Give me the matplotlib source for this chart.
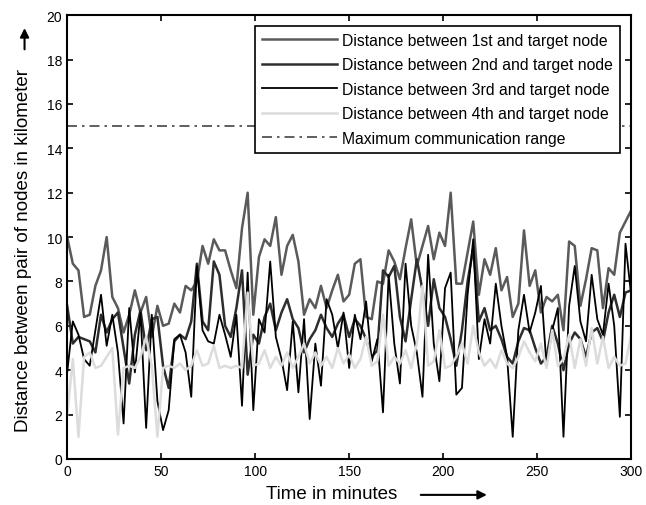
import numpy as np
import matplotlib.pyplot as plt
from matplotlib.patches import FancyArrowPatch

# time axis in minutes, one sample every 3 minutes
time_min = np.arange(0, 301, 3)

dist_1st = [10.0, 8.8, 8.5, 6.4, 6.5, 7.8, 8.5, 10.0, 7.3, 6.8,
            5.7, 6.5, 7.6, 6.6, 7.3, 5.5, 6.9, 6.0, 6.1, 7.0,
            6.6, 7.8, 7.6, 8.0, 9.6, 8.8, 9.9, 9.4, 9.4, 8.5,
            7.7, 10.4, 12.0, 6.5, 9.1, 9.9, 9.6, 10.9, 8.3, 9.6,
            10.1, 8.9, 6.5, 7.2, 6.8, 7.8, 6.8, 7.6, 8.3, 7.1,
            7.4, 8.8, 9.0, 6.4, 6.3, 8.0, 7.9, 9.4, 8.9, 8.1,
            9.5, 10.8, 8.7, 9.6, 10.5, 9.0, 10.2, 9.6, 12.0, 7.9,
            7.9, 9.3, 10.7, 7.4, 9.0, 8.3, 9.5, 7.6, 8.2, 6.4,
            7.0, 10.3, 7.8, 8.5, 6.6, 7.3, 7.1, 7.4, 5.8, 9.8,
            9.6, 6.9, 8.1, 9.5, 9.4, 6.8, 8.6, 8.3, 10.2, 10.7,
            11.2]

dist_2nd = [6.9, 5.2, 5.5, 5.4, 5.3, 4.8, 6.5, 5.7, 6.3, 6.6,
            5.0, 3.4, 5.6, 6.7, 4.9, 6.3, 6.4, 4.2, 3.2, 5.3,
            5.6, 5.4, 6.2, 8.8, 6.2, 5.8, 8.9, 8.3, 6.0, 5.5,
            6.8, 8.5, 3.8, 5.6, 5.2, 6.4, 7.0, 5.8, 6.6, 7.2,
            6.3, 5.9, 4.8, 5.4, 5.8, 6.5, 5.9, 5.5, 6.1, 6.5,
            5.5, 6.3, 6.0, 5.4, 4.6, 4.9, 8.5, 8.2, 8.7, 6.4,
            5.3, 7.2, 9.0, 7.6, 6.0, 8.1, 6.8, 6.4, 5.4, 4.2,
            5.8, 8.0, 9.5, 6.2, 6.8, 5.8, 6.0, 5.4, 4.6, 4.3,
            5.3, 5.9, 5.8, 5.0, 4.3, 4.6, 6.0, 5.2, 4.0, 5.2,
            5.7, 5.4, 4.6, 5.7, 5.9, 5.3, 6.6, 7.4, 6.4, 7.5,
            7.6]

dist_3rd = [3.9, 6.2, 5.6, 4.5, 4.2, 5.8, 7.4, 5.1, 6.5, 4.8,
            1.6, 6.8, 3.9, 6.6, 1.4, 6.5, 2.6, 1.3, 2.2, 5.4,
            5.6, 4.8, 2.8, 8.7, 5.8, 5.3, 5.2, 6.5, 5.6, 4.6,
            6.5, 2.4, 8.4, 2.2, 6.3, 5.7, 8.9, 5.5, 4.5, 3.1,
            6.2, 3.0, 6.3, 1.8, 5.2, 3.3, 7.2, 6.5, 5.0, 6.6,
            4.1, 6.5, 5.4, 7.1, 4.4, 5.4, 2.1, 8.3, 5.2, 3.4,
            8.8, 6.0, 4.8, 2.8, 9.2, 5.2, 3.5, 7.7, 8.4, 2.9,
            3.2, 7.4, 9.9, 4.5, 6.3, 5.2, 7.9, 6.0, 4.6, 1.0,
            5.8, 7.4, 5.7, 6.6, 7.8, 4.2, 5.8, 6.8, 1.0, 6.9,
            8.7, 6.2, 5.3, 8.3, 6.3, 5.6, 7.9, 6.0, 1.9, 9.7,
            7.4]

dist_4th = [2.0, 4.5, 1.0, 4.6, 4.8, 4.1, 4.2, 4.6, 5.0, 1.1,
            4.1, 4.2, 4.1, 4.6, 5.5, 4.2, 1.0, 4.1, 4.2, 4.1,
            4.3, 4.0, 4.2, 4.9, 4.2, 4.3, 5.1, 4.1, 4.2, 4.1,
            4.2, 4.1, 7.5, 4.2, 4.3, 4.9, 4.1, 4.6, 4.2, 4.8,
            4.1, 4.6, 5.2, 4.3, 4.8, 4.2, 4.6, 4.1, 5.0, 4.3,
            4.7, 4.1, 4.5, 5.5, 4.2, 4.4, 6.5, 4.2, 4.6, 4.3,
            4.9, 4.1, 5.2, 7.8, 4.2, 4.4, 5.8, 4.1, 4.2, 4.6,
            5.2, 4.3, 6.0, 4.8, 4.2, 4.5, 4.1, 4.9, 4.3, 4.1,
            4.6, 5.3, 4.8, 4.4, 5.2, 4.1, 5.8, 4.2, 4.5, 5.6,
            4.1, 5.4, 4.2, 5.9, 4.3, 5.5, 4.1, 4.6, 4.2, 4.3,
            5.6]

max_range = 15

labels = ["Distance between 1st and target node",
          "Distance between 2nd and target node",
          "Distance between 3rd and target node",
          "Distance between 4th and target node",
          "Maximum communication range"]

plt.rcParams['font.family'] = ['Liberation Sans', 'DejaVu Sans']

fig = plt.figure(figsize=(6.46, 5.06), dpi=100)
ax = fig.add_axes([0.104, 0.091, 0.873, 0.877])

ax.plot(time_min, dist_1st, color='#5a5a5a', lw=1.8, label=labels[0])
ax.plot(time_min, dist_2nd, color='#2e2e2e', lw=1.8, label=labels[1])
ax.plot(time_min, dist_3rd, color='black', lw=1.3, label=labels[2])
ax.plot(time_min, dist_4th, color='#dcdcdc', lw=1.8, label=labels[3])
ax.plot([0, 300], [max_range, max_range], color='#444444', lw=1.2,
        dashes=[6, 3, 1.5, 3], label=labels[4])

ax.set_xlim(0, 300)
ax.set_ylim(0, 20)
ax.set_xticks(range(0, 301, 50))
ax.set_yticks(range(0, 21, 2))
ax.tick_params(direction='in', top=True, right=True, length=4, width=1.2,
               labelsize=10)
for s in ax.spines.values():
    s.set_linewidth(1.5)

leg = ax.legend(loc='upper right', bbox_to_anchor=(0.98, 0.976), fontsize=11.3,
                handlelength=4.8, frameon=True, fancybox=False,
                edgecolor='black', framealpha=1, borderpad=0.45,
                labelspacing=0.6, handletextpad=0.3, borderaxespad=0)
leg.get_frame().set_linewidth(1.2)

fig.text(0.037, 0.505, "Distance between pair of nodes in kilometer",
         rotation=90, ha='center', va='center', fontsize=13.5)
fig.text(0.514, 0.022, "Time in minutes", ha='center', va='center',
         fontsize=13.5)
fig.patches.append(FancyArrowPatch(
    (0.038, 0.895), (0.038, 0.948), transform=fig.transFigure,
    arrowstyle='-|>', mutation_scale=13, lw=1.5, color='black'))
fig.patches.append(FancyArrowPatch(
    (0.647, 0.02), (0.758, 0.02), transform=fig.transFigure,
    arrowstyle='-|>', mutation_scale=13, lw=1.5, color='black'))

fig.savefig('out.png', dpi=100)
